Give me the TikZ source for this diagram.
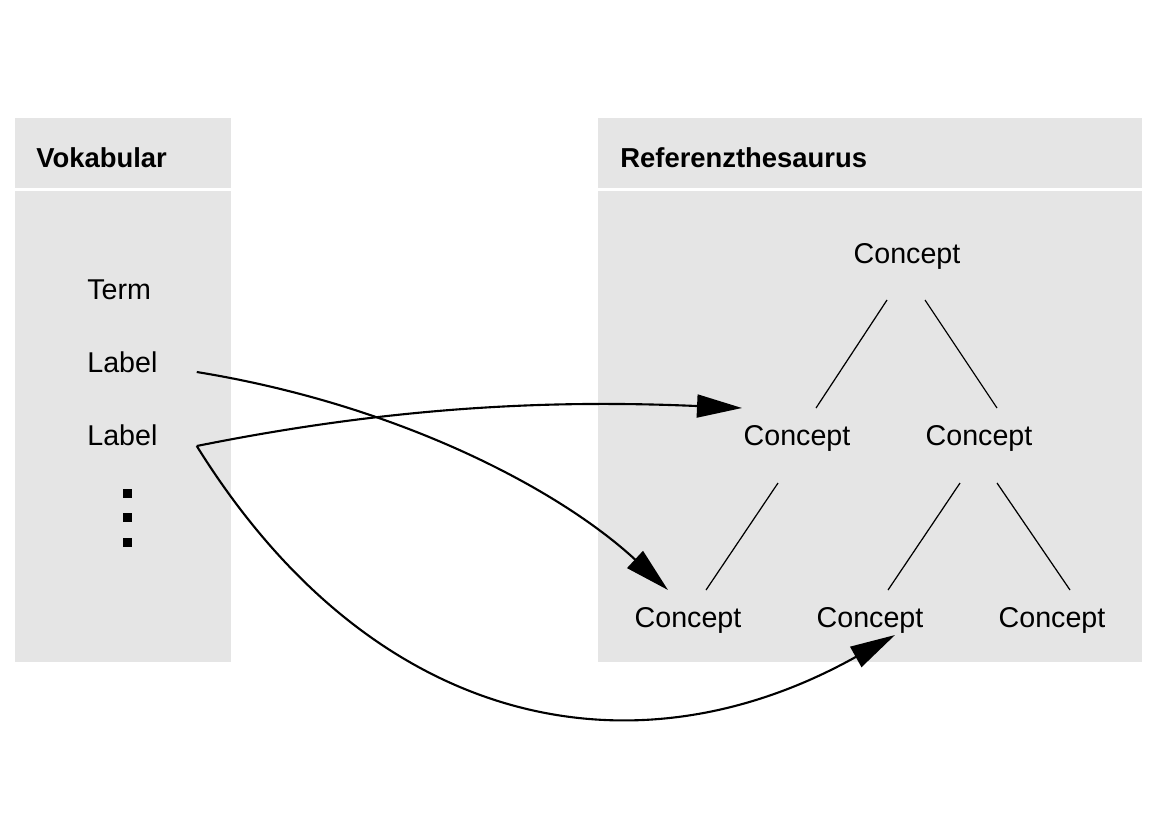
\documentclass[tikz,border=0pt]{standalone}
\usepackage{fontspec}
\setmainfont{Liberation Sans}
\usetikzlibrary{arrows.meta}
\definecolor{boxgray}{HTML}{E5E5E5}
\tikzset{
  boxfill/.style={fill=boxgray, draw=none},
  term/.style={inner sep=0pt, anchor=base west},
  concept/.style={inner sep=0pt, anchor=base},
  treeline/.style={line width=0.7pt},
  linkarrow/.style={line width=1.2pt, -{Triangle[length=0.9cm, width=0.46cm]}}
}
\begin{document}
\begin{tikzpicture}[x=0.02cm, y=-0.02cm]
            \useasboundingbox (0,0) rectangle (1158,819);
            {\fontsize{16.3}{19}\selectfont

            % Drawing box Vokabular
            \fill [boxfill] (15,118) rectangle (231,188);%
            \fill [boxfill] (15,191) rectangle (231,662);%
            \node (vokhead) [term] at (36,167) {\fontsize{15.6}{19}\selectfont\bfseries Vokabular};%

            % Drawing box Referenzthesaurus
            \fill [boxfill] (598,118) rectangle (1142,188);%
            \fill [boxfill] (598,191) rectangle (1142,662);%
            \node (refhead) [term] at (620,167) {\fontsize{15.6}{19}\selectfont\bfseries Referenzthesaurus};%

            % Marking term and labels
            \node (term) [term] at (87,299) {Term};%
            \node (labA) [term] at (87,372) {Label};%
            \node (labB) [term] at (87,445) {Label};%

            % Marking dots
            \fill (123,489) rectangle (132,498);%
            \fill (123,513) rectangle (132,522);%
            \fill (123,538) rectangle (132,547);%

            % Marking concepts
            \node (ctop) [concept] at (907,263) {Concept};%
            \node (cml)  [concept] at (797,445) {Concept};%
            \node (cmr)  [concept] at (979,445) {Concept};%
            \node (cbl)  [concept] at (688,627) {Concept};%
            \node (cbm)  [concept] at (870,627) {Concept};%
            \node (cbr)  [concept] at (1052,627) {Concept};%

            % Drawing segment ctop cml
            \draw [treeline] ([shift={(-20,37)}]ctop.base) -- ([shift={(19,-37)}]cml.base);%

            % Drawing segment ctop cmr
            \draw [treeline] ([shift={(18,37)}]ctop.base) -- ([shift={(18,-37)}]cmr.base);%

            % Drawing segment cml cbl
            \draw [treeline] ([shift={(-19,38)}]cml.base) -- ([shift={(18,-37)}]cbl.base);%

            % Drawing segment cmr cbm
            \draw [treeline] ([shift={(-19,38)}]cmr.base) -- ([shift={(18,-37)}]cbm.base);%

            % Drawing segment cmr cbr
            \draw [treeline] ([shift={(18,38)}]cmr.base) -- ([shift={(18,-37)}]cbr.base);%

            % Drawing arrow labA cbl
            \draw [linkarrow] ([shift={(39,0)}]labA.base east)
              .. controls (400,405) and (560,490) .. ([shift={(-20,-37)}]cbl.base);%

            % Drawing arrow labB cml
            \draw [linkarrow] ([shift={(39,1)}]labB.base east)
              .. controls (400,405) and (560,400) .. ([shift={(-55,-37)}]cml.base);%

            % Drawing arrow labB cbm
            \draw [linkarrow] ([shift={(39,1)}]labB.base east)
              .. controls (372,728) and (632,782) .. ([shift={(25,8)}]cbm.base);%
            }
        \end{tikzpicture}
\end{document}
